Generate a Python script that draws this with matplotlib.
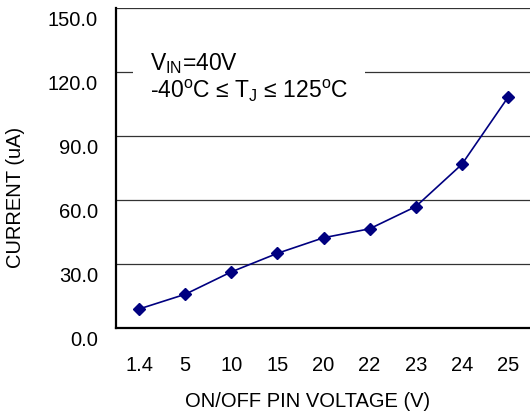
import matplotlib
matplotlib.use('Agg')
import matplotlib.pyplot as plt
from matplotlib.transforms import ScaledTranslation

plt.rcParams['font.family'] = ['Liberation Sans', 'DejaVu Sans']
plt.rcParams['mathtext.fontset'] = 'custom'
plt.rcParams['mathtext.rm'] = 'Liberation Sans'

# data
voltage_labels = ['1.4', '5', '10', '15', '20', '22', '23', '24', '25']
current_ua = [8.9, 15.8, 26.3, 35.0, 42.3, 46.5, 56.9, 76.7, 108.1]
y_ticks = [0, 30, 60, 90, 120, 150]
y_tick_labels = ['0.0', '30.0', '60.0', '90.0', '120.0', '150.0']

fig = plt.figure(figsize=(5.3, 4.18), dpi=100)
ax = fig.add_axes([116/530, 90/418, 415/530, 320/418])

x = list(range(len(voltage_labels)))
ax.plot(x, current_ua, color='#000080', lw=1.2, marker='D', ms=6,
        markerfacecolor='#000080', markeredgecolor='#000080', zorder=3)

ax.set_xlim(-0.5, len(voltage_labels) - 0.5)
ax.set_ylim(0, 150)
ax.set_xticks(x)
ax.set_xticklabels(voltage_labels, fontsize=14.5)
ax.set_yticks(y_ticks)
ax.set_yticklabels(y_tick_labels, fontsize=14.5)
ax.tick_params(axis='both', length=0)
ax.tick_params(axis='y', pad=13)
ax.tick_params(axis='x', pad=20)

# excel-style: y labels sit a bit below their gridline
for lab in ax.get_yticklabels():
    lab.set_transform(lab.get_transform() + ScaledTranslation(0, -0.11, fig.dpi_scale_trans))

for v in y_ticks[1:]:
    ax.axhline(v, color='#333333', lw=0.9, zorder=1)

for side in ['top', 'right']:
    ax.spines[side].set_visible(False)
for side in ['left', 'bottom']:
    ax.spines[side].set_linewidth(1.6)
    ax.spines[side].set_zorder(4)

ax.set_ylabel('CURRENT (uA)', fontsize=14.5)
ax.set_xlabel('ON/OFF PIN VOLTAGE (V)', fontsize=14.5)
ax.yaxis.set_label_coords(-0.243, 0.409)
ax.xaxis.set_label_coords(0.4627, -0.231)
ax.yaxis.label.set_va('center')
ax.xaxis.label.set_va('center')

ax.text(34/415, 0.865,
        'V$_{\\mathregular{IN}}$=40V\n-40$^{\\mathregular{o}}$C \u2264 T$_{\\mathregular{J}}$ \u2264 125$^{\\mathregular{o}}$C',
        transform=ax.transAxes, fontsize=16.5, va='top', ha='left', linespacing=1.1,
        bbox=dict(facecolor='white', edgecolor='none', pad=12), zorder=5)

fig.savefig('out.png', dpi=100)
